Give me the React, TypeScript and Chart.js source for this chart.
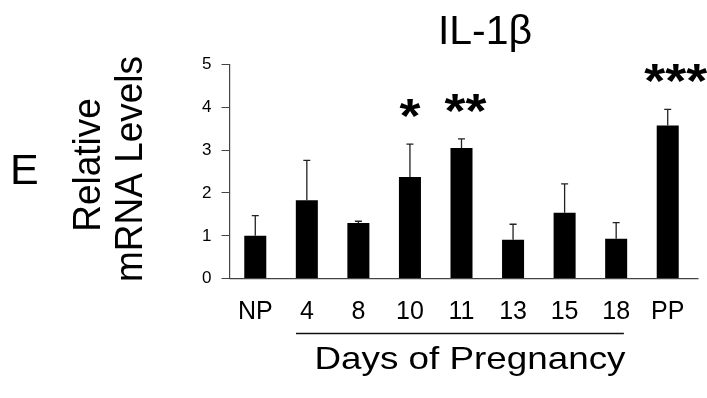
import React, { useEffect, useRef } from "react";
import { Chart, registerables } from "chart.js";

Chart.register(...registerables);

// Relative IL-1β mRNA levels across pregnancy (mean ± SEM)
const categories = ["NP", "4", "8", "10", "11", "13", "15", "18", "PP"];
const meanLevels = [1.0, 1.83, 1.3, 2.37, 3.05, 0.91, 1.54, 0.93, 3.57];
const semLevels = [0.47, 0.93, 0.04, 0.77, 0.21, 0.36, 0.67, 0.38, 0.38];
const significance = ["", "", "", "*", "**", "", "", "", "***"];
const yTicks = [0, 1, 2, 3, 4, 5];
// first and last index of the gestation days grouped under the line
const pregnancySpan = [1, 7];

const FONT = "'Liberation Sans', Arial, Helvetica, sans-serif";
const AXIS_COLOR = "#444";

function drawText(
  ctx: CanvasRenderingContext2D,
  text: string,
  x: number,
  y: number,
  font: string,
  opts: { sx?: number; rotate?: number; align?: CanvasTextAlign } = {}
) {
  ctx.save();
  ctx.translate(x, y);
  ctx.scale(opts.sx ?? 1, 1);
  if (opts.rotate) ctx.rotate(opts.rotate);
  ctx.font = font;
  ctx.fillStyle = "#000";
  ctx.textAlign = opts.align ?? "center";
  ctx.textBaseline = "alphabetic";
  ctx.fillText(text, 0, 0);
  ctx.restore();
}

const annotations = {
  id: "annotations",
  afterDatasetsDraw(chart: any) {
    const { ctx, chartArea, scales } = chart;
    const xs = scales.x;
    const ys = scales.y;
    const zero = ys.getPixelForValue(0);

    ctx.save();
    // baseline of the bars
    ctx.strokeStyle = AXIS_COLOR;
    ctx.lineWidth = 1.2;
    ctx.beginPath();
    ctx.moveTo(chartArea.left, zero);
    ctx.lineTo(chartArea.right + 5, zero);
    ctx.stroke();

    // SEM whiskers (upper side only)
    ctx.strokeStyle = "#222";
    ctx.lineWidth = 1.3;
    meanLevels.forEach((m, i) => {
      const cx = xs.getPixelForValue(i);
      const base = ys.getPixelForValue(m);
      const top = ys.getPixelForValue(m + semLevels[i]);
      ctx.beginPath();
      ctx.moveTo(cx, base);
      ctx.lineTo(cx, top);
      ctx.moveTo(cx - 3.5, top);
      ctx.lineTo(cx + 3.5, top);
      ctx.stroke();

      const mark = significance[i];
      if (mark) {
        const font = `bold 48px ${FONT}`;
        ctx.font = font;
        const mt = ctx.measureText(mark);
        const inkH = mt.actualBoundingBoxAscent - mt.actualBoundingBoxDescent;
        const centerY = top - 21;
        const baseline = centerY + mt.actualBoundingBoxAscent - inkH / 2;
        drawText(ctx, mark, cx + (mark.length - 1) * 4, baseline, font, { sx: 1.12 });
      }
    });

    // line grouping the days of pregnancy
    const w = (chartArea.right - chartArea.left) / categories.length;
    const x0 = xs.getPixelForValue(pregnancySpan[0]) - 0.21 * w;
    const x1 = xs.getPixelForValue(pregnancySpan[1]) + 0.15 * w;
    ctx.strokeStyle = "#111";
    ctx.lineWidth = 1.5;
    ctx.beginPath();
    ctx.moveTo(x0, 333.5);
    ctx.lineTo(x1, 333.5);
    ctx.stroke();
    ctx.restore();

    // titles and labels
    drawText(ctx, "IL-1β", 485, 43.5, `41px ${FONT}`);
    drawText(ctx, "Days of Pregnancy", 470, 369, `32px ${FONT}`, { sx: 1.15 });
    drawText(ctx, "Relative", 100, 165, `37px ${FONT}`, { sx: 1.05, rotate: -Math.PI / 2 });
    drawText(ctx, "mRNA Levels", 142, 169, `37px ${FONT}`, { sx: 1.05, rotate: -Math.PI / 2 });
    drawText(ctx, "E", 10, 184, `43px ${FONT}`, { align: "left" });
  },
};

export default function App() {
  const canvasRef = useRef<HTMLCanvasElement | null>(null);

  useEffect(() => {
    const canvas = canvasRef.current;
    if (!canvas) return;
    const chart = new Chart(canvas, {
      type: "bar",
      data: {
        labels: categories,
        datasets: [
          {
            data: meanLevels,
            backgroundColor: "#000",
            borderWidth: 0,
            categoryPercentage: 1,
            barPercentage: 0.427,
          },
        ],
      },
      options: {
        responsive: true,
        maintainAspectRatio: false,
        animation: false,
        devicePixelRatio: 1,
        layout: { padding: { top: 64.3, right: 13.5, left: 0, bottom: 0 } },
        plugins: {
          legend: { display: false },
          title: { display: false },
          tooltip: { enabled: false },
        },
        scales: {
          x: {
            type: "category",
            offset: true,
            grid: { display: false, drawTicks: false, tickLength: 0 },
            border: { display: false },
            ticks: {
              color: "#000",
              font: { family: FONT, size: 25 },
              padding: 18,
              maxRotation: 0,
              autoSkip: false,
            },
            afterFit: (scale: any) => {
              scale.height = 119.3;
            },
          },
          y: {
            type: "linear",
            min: 0,
            max: 5,
            grid: {
              display: true,
              drawOnChartArea: false,
              drawTicks: true,
              tickLength: 8,
              color: AXIS_COLOR,
              lineWidth: 1,
            },
            border: { display: true, color: AXIS_COLOR, width: 1.2 },
            ticks: {
              color: "#000",
              font: { family: FONT, size: 17 },
              padding: 10,
              stepSize: 1,
              callback: (v: any) => (yTicks.includes(Number(v)) ? String(v) : ""),
            },
            afterFit: (scale: any) => {
              scale.width = 229.5;
            },
          },
        },
      },
      plugins: [annotations],
    });
    return () => chart.destroy();
  }, []);

  return (
    <div
      style={{
        position: "fixed",
        left: 0,
        top: 0,
        width: 707,
        height: 398,
        background: "#fff",
      }}
    >
      <canvas ref={canvasRef} />
    </div>
  );
}
